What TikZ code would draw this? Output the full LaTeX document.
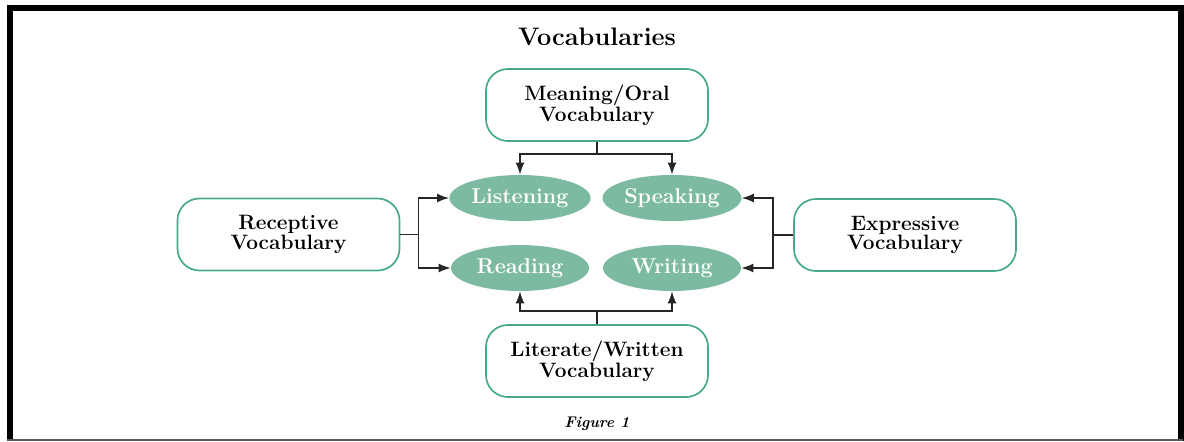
\documentclass[tikz,border=0pt]{standalone}
\usetikzlibrary{shapes.geometric,arrows.meta}

\definecolor{boxline}{RGB}{70,168,140}
\definecolor{skillfill}{RGB}{124,186,161}

\tikzset{
	vocabbox/.style={draw=boxline, line width=1.2pt, rounded corners=0.55cm,
		minimum width=5.55cm, minimum height=1.8cm, align=center,
		font=\fontsize{14.8}{12.6}\selectfont\bfseries},
	skill/.style={ellipse, fill=skillfill, minimum width=3.45cm,
		minimum height=1.15cm, text=white, inner sep=1pt,
		font=\fontsize{15.3}{15}\selectfont\bfseries},
	link/.style={line width=1pt, black!85, -{Latex[length=3mm,width=2.2mm]}}
}

\begin{document}
\begin{tikzpicture}[x=0.025cm, y=-0.025cm]
		
		\useasboundingbox (0,0) rectangle (1184,441);
		
		% Frame
		\draw[line width=0.15cm] (10,441) -- (10,8) -- (1180.5,8) -- (1180.5,441);
		
		\draw[black!65, line width=0.05cm] (7,440) -- (1183,440);
		
		% Title
		\node[font=\fontsize{18}{18}\selectfont\bfseries] (title) at (597,37) {Vocabularies};
		
		% Vocabulary boxes
		\node[vocabbox] (oral) at (597,105) {Meaning/Oral\\Vocabulary};
		
		\node[vocabbox] (recep) at (288.5,234.5) {Receptive\\Vocabulary};
		
		\node[vocabbox] (expr) at (905,235) {Expressive\\Vocabulary};
		
		\node[vocabbox] (writ) at (597,361) {Literate/Written\\Vocabulary};
		
		% Skills
		\node[skill] (listen) at (520,198) {Listening};
		
		\node[skill] (speak) at (672,198) {Speaking};
		
		\node[skill] (read) at (520,268) {Reading};
		
		\node[skill] (write) at (672,268) {Writing};
		
		% Connectors
		\draw[link] (oral.south) -- ++(0,12) -| (listen.north);
		
		\draw[link] (oral.south) -- ++(0,12) -| (speak.north);
		
		\draw[link] (recep.east) -- ++(18,0) |- (listen.west);
		
		\draw[link] (recep.east) -- ++(18,0) |- (read.west);
		
		\draw[link] (expr.west) -- ++(-20,0) |- (speak.east);
		
		\draw[link] (expr.west) -- ++(-20,0) |- (write.east);
		
		\draw[link] (writ.north) -- ++(0,-13) -| (read.south);
		
		\draw[link] (writ.north) -- ++(0,-13) -| (write.south);
		
		% Caption
		\node[font=\fontsize{11}{11}\selectfont\bfseries\itshape] (caption) at (597,424) {Figure 1};
		
	\end{tikzpicture}
\end{document}
